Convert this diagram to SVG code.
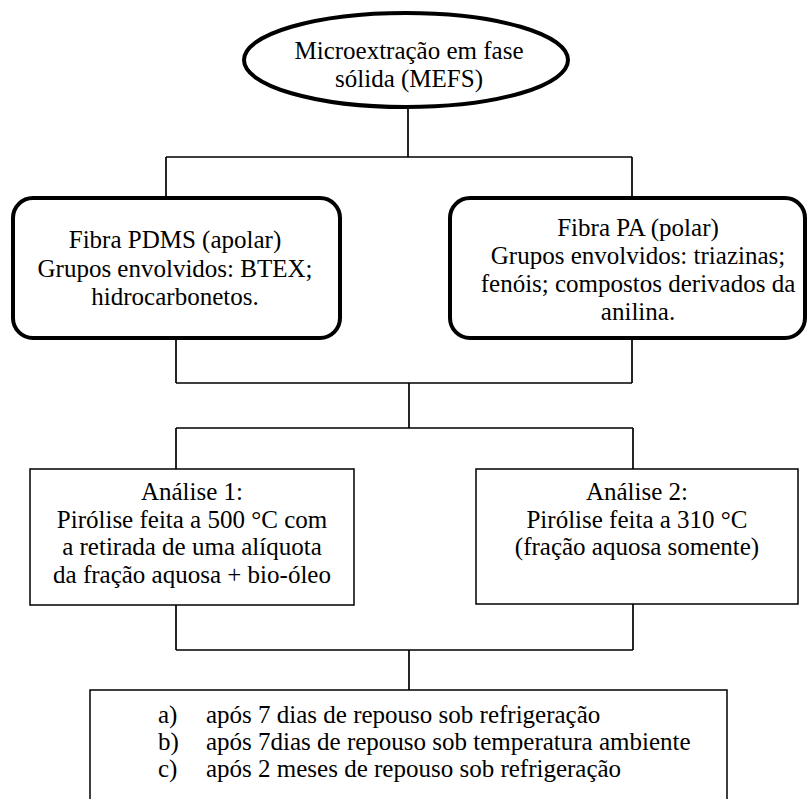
<svg xmlns="http://www.w3.org/2000/svg" width="807" height="799" viewBox="0 0 807 799">
  <style>
    text { font-family: "Liberation Serif", "Times New Roman", serif; font-size: 25px; fill: #000; }
    .c { text-anchor: middle; }
    .thick { fill: #fff; stroke: #000; stroke-width: 4; }
    .thin { fill: #fff; stroke: #000; stroke-width: 1.5; }
    .wire { fill: none; stroke: #000; stroke-width: 1.7; }
  </style>
  <rect width="807" height="799" fill="#fff"/>

  <g id="connectors">
    <path class="wire" d="M408,108 V157 M166,157 H632 M166,157 V198 M632,157 V198"/>
    <path class="wire" d="M176,338 V383 M632,338 V383 M176,383 H632 M409,383 V428 M176,428 H633 M176,428 V469 M633,428 V469"/>
    <path class="wire" d="M176,605 V650 M633,604 V650 M176,650 H633 M409,650 V690"/>
  </g>

  <g id="mefs">
    <ellipse class="thick" cx="406" cy="60" rx="162" ry="47"/>
    <text class="c" x="409" y="59">Microextração em fase</text>
    <text class="c" x="409" y="87">sólida (MEFS)</text>
  </g>

  <g id="pdms">
    <rect class="thick" x="13" y="198" width="327" height="140" rx="20"/>
    <text class="c" x="175" y="248">Fibra PDMS (apolar)</text>
    <text class="c" x="175" y="276.5">Grupos envolvidos: BTEX;</text>
    <text class="c" x="175" y="305">hidrocarbonetos.</text>
  </g>

  <g id="pa">
    <rect class="thick" x="450" y="198" width="355" height="140" rx="20"/>
    <text class="c" x="638" y="236">Fibra PA (polar)</text>
    <text class="c" x="638" y="264">Grupos envolvidos: triazinas;</text>
    <text class="c" x="638" y="292">fenóis; compostos derivados da</text>
    <text class="c" x="638" y="320">anilina.</text>
  </g>

  <g id="analise1">
    <rect class="thin" x="30" y="469" width="324" height="136"/>
    <text class="c" x="192" y="500">Análise 1:</text>
    <text class="c" x="192" y="527.5">Pirólise feita a 500 °C com</text>
    <text class="c" x="192" y="555">a retirada de uma alíquota</text>
    <text class="c" x="192" y="582.5">da fração aquosa + bio-óleo</text>
  </g>

  <g id="analise2">
    <rect class="thin" x="476" y="469" width="322" height="135"/>
    <text class="c" x="637" y="500">Análise 2:</text>
    <text class="c" x="637" y="527.5">Pirólise feita a 310 °C</text>
    <text class="c" x="637" y="555">(fração aquosa somente)</text>
  </g>

  <g id="armazenamento">
    <rect class="thin" x="90" y="690" width="637" height="130"/>
    <text x="158" y="723">a)</text>
    <text x="206" y="723">após 7 dias de repouso sob refrigeração</text>
    <text x="158" y="750">b)</text>
    <text x="206" y="750">após 7dias de repouso sob temperatura ambiente</text>
    <text x="158" y="777">c)</text>
    <text x="206" y="777">após 2 meses de repouso sob refrigeração</text>
  </g>
</svg>
